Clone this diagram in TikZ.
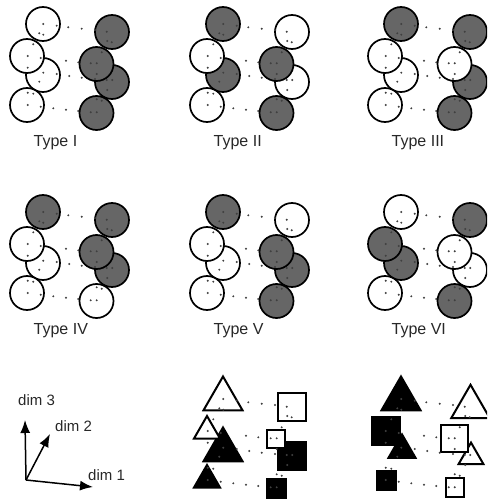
\documentclass[tikz,border=0pt]{standalone}
\usepackage{fontspec}
\newfontfamily\lab{Liberation Sans}
\usetikzlibrary{arrows.meta}
\definecolor{cgray}{RGB}{102,102,102}
\definecolor{txt}{RGB}{40,40,40}
\tikzset{
  cline/.style={draw=black,line width=1.7pt},
  sline/.style={draw=black,line width=2pt},
  typelabel/.style={anchor=base west,inner sep=0pt,text=txt,font=\lab\fontsize{16}{16}\selectfont},
  dimlabel/.style={anchor=base west,inner sep=0pt,text=txt,font=\lab\fontsize{15}{15}\selectfont},
  axis/.style={line width=1.5pt,-{Latex[length=13pt,width=10pt]}},
}
% circles: L1 L2 L3 L4 R1 R2 R3 R4
\newcommand\circs[8]{%
  \draw[cline,fill=#1] (43,24) circle (17);
  \draw[cline,fill=#5] (112,32) circle (17);
  \draw[cline,fill=#3] (43,75) circle (17);
  \draw[cline,fill=#7] (112,82) circle (17);
  \draw[cline,fill=#2] (27,56) circle (17);
  \draw[cline,fill=#6] (96.5,64) circle (17);
  \draw[cline,fill=#4] (27,105) circle (17);
  \draw[cline,fill=#8] (96.5,113) circle (17);
}
\newcommand\tri[4]{\draw[sline,fill=#4] (#1,{#2-0.57735*#3}) -- ({#1+#3/2},{#2+0.288675*#3}) -- ({#1-#3/2},{#2+0.288675*#3}) -- cycle;}
\newcommand\sq[4]{\draw[sline,fill=#4] ({#1-#3/2},{#2-#3/2}) rectangle ({#1+#3/2},{#2+#3/2});}
\newcommand\pdots{%
  \foreach \p in {(43.3,24),(56.7,25.7),(39.3,33.3),(43.3,34.7),(68.3,27.3),(81.7,28.7),(95,30),(106.7,31.7),(107.3,41),(111.7,42.3),
    (33.3,44.3),(27.7,56),(40.7,58),(27.7,67.7),(66,60.7),(78.3,62.3),(90.7,63.3),(96.7,63.3),(101.7,52.3),(96.7,74),
    (43.3,72.7),(56.7,74),(39.3,81.7),(69.3,76),(81.7,77.7),(95,79),(106.7,80),(112.3,80),(107.3,90),
    (27.7,92.7),(33.3,93.7),(27.7,105),(40.7,106.7),(53.3,108.3),(66,109.7),(78.3,111),(90.7,112.3),(96.7,112.3),(96.7,99.3),(101.7,100.7)}
    {\fill[black!75] \p circle (1.1);}
}
\begin{document}
\begin{tikzpicture}[x=1pt,y=-1pt]
\useasboundingbox[fill=white] (0,0) rectangle (487,500);
\begin{scope}
\clip (0,0) rectangle (487,500);
% Type I
\begin{scope}[shift={(0,0)}]
  \circs{white}{white}{white}{white}{cgray}{cgray}{cgray}{cgray}
  \pdots
  \node[typelabel] (t1) at (33.5,146) {Type I};
\end{scope}
% Type II
\begin{scope}[shift={(180,0)}]
  \circs{cgray}{white}{cgray}{white}{white}{cgray}{white}{cgray}
  \pdots
  \node[typelabel] (t2) at (33.5,146) {Type II};
\end{scope}
% Type III
\begin{scope}[shift={(358,0)}]
  \circs{cgray}{white}{white}{white}{cgray}{white}{cgray}{cgray}
  \pdots
  \node[typelabel] (t3) at (33.5,146) {Type III};
\end{scope}
% Type IV
\begin{scope}[shift={(0,188)}]
  \circs{cgray}{white}{white}{white}{cgray}{cgray}{cgray}{white}
  \pdots
  \node[typelabel] (t4) at (33.5,146) {Type IV};
\end{scope}
% Type V
\begin{scope}[shift={(180,188)}]
  \circs{cgray}{white}{white}{white}{white}{cgray}{cgray}{cgray}
  \pdots
  \node[typelabel] (t5) at (33.5,146) {Type V};
\end{scope}
% Type VI
\begin{scope}[shift={(358,188)}]
  \circs{white}{cgray}{cgray}{white}{cgray}{white}{white}{cgray}
  \pdots
  \node[typelabel] (t6) at (33.5,146) {Type VI};
\end{scope}
% shapes middle
\begin{scope}[shift={(180,375)}]
  \tri{43}{24}{39}{white}
  \sq{112}{32}{27.5}{white}
  \tri{43}{75}{39}{black}
  \sq{111.5}{81}{28}{black}
  \tri{27}{56}{26}{white}
  \sq{96}{64}{18.5}{white}
  \tri{27}{105}{26}{black}
  \sq{96}{113}{19}{black}
  \pdots
\end{scope}
% shapes right
\begin{scope}[shift={(358,375)}]
  \tri{43}{24}{39}{black}
  \tri{112.5}{32}{38.5}{white}
  \tri{44}{75}{27}{black}
  \tri{113}{82}{25}{white}
  \sq{28}{56}{27.5}{black}
  \sq{96.5}{63}{27}{white}
  \sq{28}{105}{19}{black}
  \sq{97}{112.5}{18.5}{white}
  \pdots
\end{scope}
\end{scope}
% axes
\coordinate (o) at (26,480);
\coordinate (d3) at (25,420);
\coordinate (d2) at (50,434);
\coordinate (d1) at (93,487);
\draw[axis] (o) -- (d3);
\draw[axis] (o) -- (d2);
\draw[axis] (o) -- (d1);
\node[dimlabel] (l3) at (18,405.5) {dim 3};
\node[dimlabel] (l2) at (55,431.5) {dim 2};
\node[dimlabel] (l1) at (88,480.5) {dim 1};
\end{tikzpicture}
\end{document}
